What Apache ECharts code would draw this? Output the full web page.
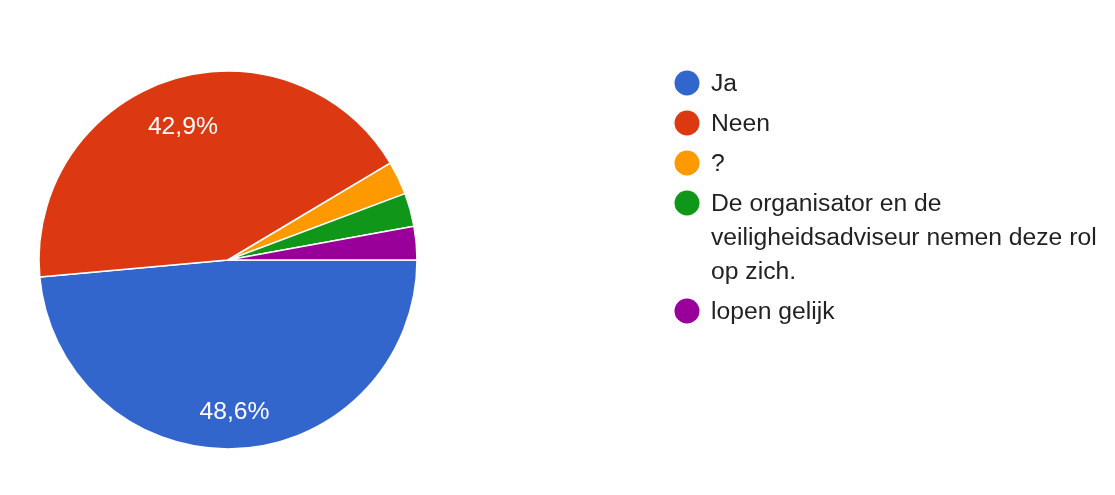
<!DOCTYPE html>
<html>
<head>
<meta charset="utf-8">
<script src="https://cdn.jsdelivr.net/npm/echarts@6/dist/echarts.min.js"></script>
<style>
  html, body { margin: 0; padding: 0; background: #fff; }
  #chart { width: 1115px; height: 495px; }
</style>
</head>
<body>
<div id="chart"></div>
<script>
// Answers and response counts
const categories = [
  'Ja',
  'Neen',
  '?',
  'De organisator en de\nveiligheidsadviseur nemen deze rol\nop zich.',
  'lopen gelijk'
];
const counts = [17, 15, 1, 1, 1];
const colors = ['#3366cc', '#dc3912', '#ff9900', '#109618', '#990099'];

const FONT = '"Liberation Sans", Arial, Helvetica, sans-serif';
const FONT_SIZE = 24.7;
const total = counts.reduce((a, b) => a + b, 0);
const pieData = categories.map((name, i) => ({
  name: name,
  value: counts[i],
  itemStyle: { color: colors[i] }
}));

// Percentages in Dutch notation, only for the larger slices
function pctLabel(p) {
  const pct = p.value / total * 100;
  return pct >= 5 ? pct.toFixed(1).replace('.', ',') + '%' : '';
}

// Legend: dot plus (possibly wrapped) name, first line aligned with the dot
const legendX = 687, legendTextX = 711, dotR = 12.5, lineH = 34, step = 40;
const legendGraphics = [];
let y = 83;
categories.forEach((name, i) => {
  const lines = name.split('\n').length;
  legendGraphics.push({
    type: 'circle',
    shape: { cx: legendX, cy: y, r: dotR },
    style: { fill: colors[i] },
    silent: true
  });
  legendGraphics.push({
    type: 'text',
    x: legendTextX,
    y: y - lineH / 2 + 1,
    style: {
      text: name,
      font: FONT_SIZE + 'px ' + FONT,
      fill: '#222222',
      lineHeight: lineH,
      verticalAlign: 'top',
      align: 'left'
    },
    silent: true
  });
  y += step + (lines - 1) * lineH;
});

const chart = echarts.init(document.getElementById('chart'), null, { renderer: 'canvas' });
chart.setOption({
  animation: false,
  backgroundColor: '#ffffff',
  graphic: legendGraphics,
  series: [
    {
      type: 'pie',
      center: [228, 260],
      radius: [0, 189],
      startAngle: 0,
      clockwise: true,
      silent: true,
      data: pieData,
      label: { show: false },
      labelLine: { show: false },
      itemStyle: { borderColor: '#ffffff', borderWidth: 1.5 }
    },
    {
      // transparent ring that carries the percentage labels
      type: 'pie',
      center: [228, 260],
      radius: [97, 189],
      startAngle: 0,
      clockwise: true,
      silent: true,
      data: pieData.map(d => ({ name: d.name, value: d.value })),
      itemStyle: { color: 'rgba(0,0,0,0)', borderWidth: 0 },
      label: {
        show: true,
        position: 'inside',
        formatter: pctLabel,
        color: '#ffffff',
        fontSize: FONT_SIZE,
        fontFamily: FONT,
        offset: [0, 6]
      },
      labelLine: { show: false }
    }
  ]
});
</script>
</body>
</html>
